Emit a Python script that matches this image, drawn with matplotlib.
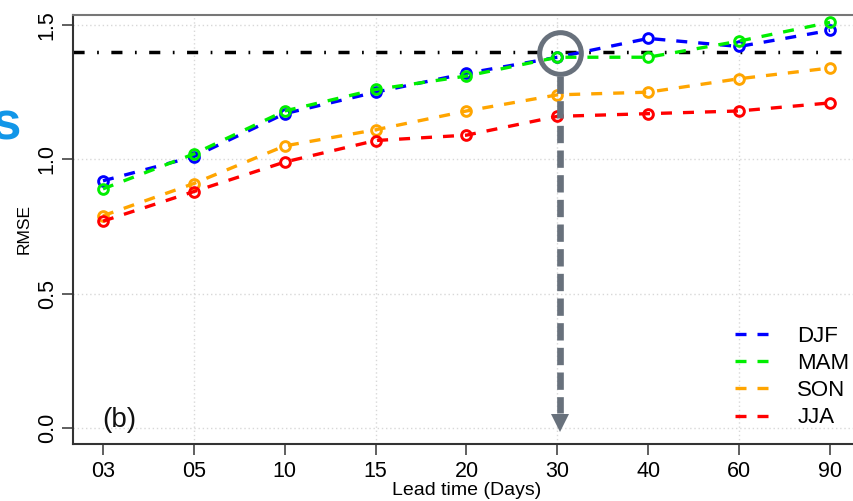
import matplotlib
matplotlib.use("Agg")
import matplotlib.pyplot as plt
import numpy as np

plt.rcParams['font.family'] = ['Liberation Sans', 'DejaVu Sans']

lead_labels = ["03", "05", "10", "15", "20", "30", "40", "60", "90"]
djf = [0.92, 1.01, 1.17, 1.25, 1.32, 1.38, 1.45, 1.42, 1.48]
mam = [0.89, 1.02, 1.18, 1.26, 1.31, 1.38, 1.38, 1.44, 1.51]
son = [0.79, 0.91, 1.05, 1.11, 1.18, 1.24, 1.25, 1.30, 1.34]
jja = [0.77, 0.88, 0.99, 1.07, 1.09, 1.16, 1.17, 1.18, 1.21]
threshold = 1.40
yticks = [0.0, 0.5, 1.0, 1.5]
grid_x_labels = ["05", "15", "30", "60"]
highlight_label = "30"

series = [("DJF", djf, "#0000ff"), ("MAM", mam, "#00ee00"),
          ("SON", son, "#ffa500"), ("JJA", jja, "#ff0000")]

fig = plt.figure(figsize=(8.54, 5.01), dpi=100)
ax = fig.add_axes([73/854, 1-444/501, 787/854, 429/501])

x = np.arange(1, len(lead_labels)+1)
ax.set_xlim(0.67, 9.33)
ax.set_ylim(-0.0595, 1.5372)

# grid
for yv in yticks:
    ax.axhline(yv, color="#d8d8d8", lw=1.0, ls=(0, (1, 2)), zorder=0)
for lab in grid_x_labels:
    ax.axvline(x[lead_labels.index(lab)], color="#d8d8d8", lw=1.0, ls=(0, (1, 2)), zorder=0)

# threshold
ax.axhline(threshold, color="black", lw=2.5, dashes=(3.2, 3.6, 0.5, 3.6),
           dash_capstyle="butt", zorder=1)

for name, vals, col in series:
    ax.plot(x, vals, color=col, lw=2.4, dashes=(3.3, 3.3), dash_capstyle="butt",
            marker="o", ms=7, mfc="none", mec=col, mew=2.1, label=name, zorder=3)

# annotation: circle and arrow
gray = "#68717c"
hx = x[lead_labels.index(highlight_label)] + 0.03
ax.plot([hx], [threshold - 0.005], marker="o", ms=30, mfc="none", mec=gray, mew=3.6,
        zorder=5, clip_on=False)
ax.plot([hx, hx], [1.31, 0.056], color=gray, lw=4.8, dashes=(2.6, 1.1),
        dash_capstyle="butt", zorder=5)
ax.plot([hx], [0.018], marker="v", ms=13.5, color=gray, mec=gray, mew=0, zorder=5)

ax.text(0.99, 0.004, "(b)", fontsize=20, ha="left", va="baseline", color="#111111")

ax.set_xticks(x)
ax.set_xticklabels(lead_labels, fontsize=15.5)
ax.set_yticks(yticks)
ax.set_yticklabels([f"{v:.1f}" for v in yticks], fontsize=15.5, rotation=90, va="center")
ax.tick_params(axis="both", length=8, width=1.2, color="#444444")
ax.tick_params(axis="x", pad=4)
ax.tick_params(axis="y", pad=3)

for s in ["left", "bottom"]:
    ax.spines[s].set_color("#333333")
    ax.spines[s].set_linewidth(1.5)
ax.spines["top"].set_color("#777777")
ax.spines["top"].set_linewidth(1.5)
ax.spines["right"].set_visible(False)

ax.set_xlabel("Lead time (Days)", fontsize=14, labelpad=0.5)
ax.set_ylabel("RMSE", fontsize=12.5, labelpad=4)

leg = ax.legend(loc="center left", bbox_to_anchor=(735/854, 1-377/501),
                bbox_transform=fig.transFigure, frameon=False, fontsize=16,
                handlelength=1.5, handletextpad=1.3, labelspacing=0.28,
                borderpad=0, borderaxespad=0)
for h in leg.get_lines():
    h.set_marker("")

fig.text(20/854, 1-140/501, "s", fontsize=38, fontweight="bold", color="#1296e8",
         ha="right", va="baseline")

fig.savefig("out.png", dpi=100)
